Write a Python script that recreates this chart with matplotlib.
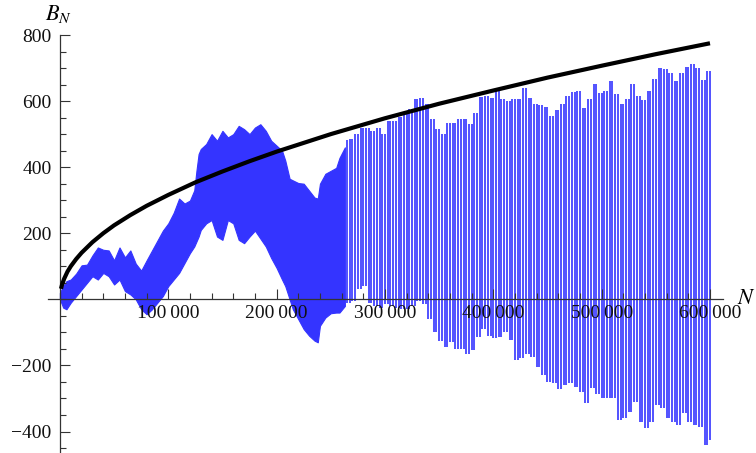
import numpy as np
import matplotlib
matplotlib.use("Agg")
import matplotlib.pyplot as plt
from matplotlib.ticker import MultipleLocator, FuncFormatter

plt.rcParams['font.family'] = ['Liberation Serif', 'DejaVu Serif']
plt.rcParams['mathtext.fontset'] = 'stix'

BLUE = '#3434ff'
AXIS = '#333333'

# dense part of B_N (N in thousands): upper / lower envelope
dense_n = [0, 3, 6, 10, 15, 20, 25, 30, 35, 40, 45, 50, 55, 60, 65, 70, 75, 80,
           85, 90, 95, 100, 105, 110, 115, 120, 124, 126, 128, 130, 135, 140, 145,
           150, 155, 160, 165, 170, 175, 180, 185, 190, 195, 200, 205, 208, 212,
           215, 220, 225, 230, 235, 238, 240, 245, 250, 255, 258, 263]
dense_hi = [20, 40, 55, 60, 78, 103, 105, 133, 157, 150, 148, 118, 157, 127, 148,
            108, 87, 118, 148, 178, 208, 230, 262, 305, 290, 299, 330, 389, 440,
            455, 470, 500, 480, 510, 490, 500, 525, 515, 500, 520, 530, 510, 480,
            465, 450, 420, 365, 360, 352, 350, 329, 308, 305, 350, 380, 389, 398,
            428, 460]
dense_lo = [0, -25, -30, -10, 10, 30, 50, 70, 60, 80, 70, 45, 60, 25, 15, 0, -30,
            -45, -30, -10, 10, 40, 60, 80, 110, 140, 160, 175, 190, 210, 230, 240,
            190, 180, 240, 230, 180, 170, 190, 208, 184, 160, 125, 95, 60, 40, 0,
            -30, -60, -90, -110, -125, -130, -80, -55, -42, -40, -40, -20]

# separate oscillations further right: peak / trough of each swing
stroke_n = list(range(265, 601, 5))
stroke_top = [482, 485, 500, 520, 520, 510, 520, 500, 540, 540, 552, 565, 575, 606,
              610, 590, 546, 516, 500, 534, 534, 546, 546, 530, 564, 612, 615, 610,
              630, 606, 600, 606, 606, 639, 610, 590, 588, 582, 555, 573, 590, 615,
              627, 630, 579, 606, 651, 625, 630, 660, 621, 590, 605, 651, 615, 603,
              630, 666, 700, 696, 685, 660, 685, 703, 712, 700, 665, 690]
stroke_bot = [-10, -5, 30, 40, -10, -20, -25, -15, -20, -25, -30, -30, -20, -5,
              -15, -60, -100, -125, -144, -130, -150, -150, -165, -154, -115, -90,
              -110, -118, -115, -100, -124, -184, -178, -165, -175, -205, -230, -250,
              -253, -270, -260, -253, -265, -280, -314, -268, -285, -299, -299, -300,
              -365, -360, -341, -311, -371, -389, -371, -320, -330, -359, -371, -380,
              -344, -370, -380, -385, -440, -425]

# bound curve
curve_n = [1, 2, 4, 7, 10, 15, 20, 30, 40, 50, 65, 80, 100, 125, 150, 175, 200,
           250, 300, 350, 400, 450, 500, 550, 600]
curve_b = [32, 45, 63, 84, 100, 122, 141, 173, 200, 224, 255, 283, 316, 354, 387,
           418, 447, 500, 548, 592, 632, 671, 707, 742, 775]

x_ticks = [100000, 200000, 300000, 400000, 500000, 600000]
y_ticks = [-400, -200, 200, 400, 600, 800]

fig = plt.figure(figsize=(7.56, 4.53), dpi=100)
ax = fig.add_axes([48 / 756, 0.0, 675 / 756, 418 / 453])

dn = np.array(dense_n) * 1000
ax.fill_between(dn, dense_lo, dense_hi, color=BLUE, lw=0.8, edgecolor=BLUE, zorder=1)

# each swing drawn as a near-vertical stroke: down at n, back up half a step later
sn = np.array(stroke_n) * 1000
xs = np.column_stack([sn, sn + 2500]).ravel()
ys = np.column_stack([stroke_top, stroke_bot]).ravel()
y_from = ys
y_to = np.append(ys[1:], ys[-1])
ax.vlines(xs, np.minimum(y_from, y_to), np.maximum(y_from, y_to),
          color=BLUE, lw=1.2, zorder=2)

ax.plot(np.array(curve_n) * 1000, curve_b, color='black', lw=3.0,
        solid_capstyle='butt', zorder=3)

ax.set_xlim(-11000, 612000)
ax.set_ylim(-465, 800)

for s in ['top', 'right']:
    ax.spines[s].set_visible(False)
ax.spines['left'].set_position(('data', 0))
ax.spines['bottom'].set_position(('data', 0))
for s in ['left', 'bottom']:
    ax.spines[s].set_color(AXIS)
    ax.spines[s].set_linewidth(0.9)
ax.spines['left'].set_bounds(-465, 800)
ax.set_axisbelow(False)

ax.set_xticks(x_ticks)
ax.xaxis.set_minor_locator(MultipleLocator(20000))
ax.set_yticks(y_ticks)
ax.yaxis.set_minor_locator(MultipleLocator(50))
ax.xaxis.set_major_formatter(FuncFormatter(lambda v, p: f"{int(v):,}".replace(',', '\u2009')))
ax.yaxis.set_major_formatter(FuncFormatter(lambda v, p: f"{int(v)}".replace('-', '\u2212')))
ax.tick_params(which='both', direction='in', colors=AXIS, labelcolor='#111111',
               labelsize=14, width=0.8)
ax.tick_params(which='major', length=7)
ax.tick_params(which='minor', length=4)
ax.tick_params(axis='x', pad=4)
ax.tick_params(axis='y', pad=6)

fig.text(59 / 756, 1 - 14 / 453, '$B_N$', fontsize=16, ha='center', va='center')
fig.text(737 / 756, 1 - 299 / 453, '$N$', fontsize=16, ha='left', va='center')

fig.savefig('out.png', dpi=100)
